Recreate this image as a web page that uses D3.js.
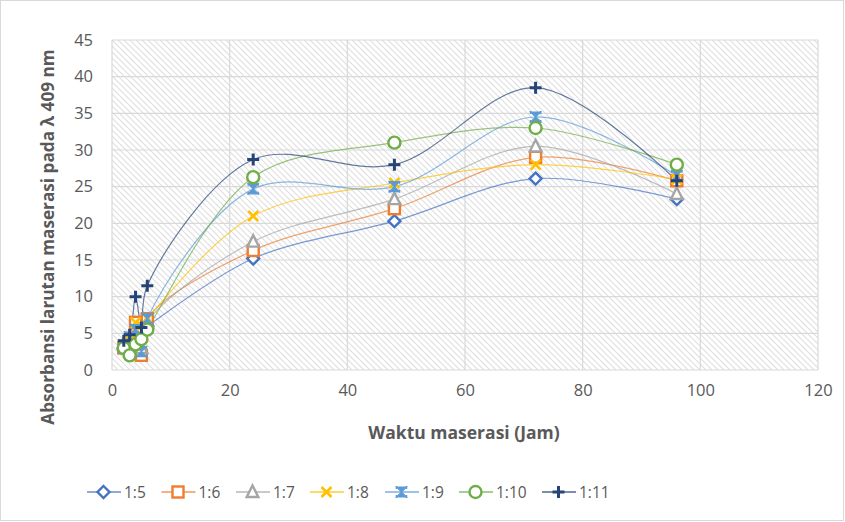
<!DOCTYPE html>
<html><head><meta charset="utf-8">
<script src="https://cdn.jsdelivr.net/npm/d3@7"></script>
<style>body{margin:0;background:#fff}svg{display:block}</style>
</head><body>
<svg id="c" width="845" height="522"></svg>
<script>
const xValues = [2, 3, 4, 5, 6, 24, 48, 72, 96];
const seriesNames = ["1:5", "1:6", "1:7", "1:8", "1:9", "1:10", "1:11"];
const s15  = [3.0, 3.5, 4.5, 5.5, 6.0, 15.2, 20.3, 26.1, 23.3];
const s16  = [3.0, 3.5, 6.5, 2.0, 7.0, 16.3, 22.0, 29.0, 25.8];
const s17  = [3.5, 3.0, 4.0, 3.0, 6.5, 17.5, 23.3, 30.5, 24.0];
const s18  = [3.5, 4.0, 6.5, 6.0, 7.0, 21.0, 25.5, 28.0, 26.0];
const s19  = [3.0, 4.5, 5.5, 2.5, 7.0, 24.7, 25.0, 34.5, 26.5];
const s110 = [3.0, 2.0, 3.5, 4.2, 5.5, 26.3, 31.0, 33.0, 28.0];
const s111 = [4.0, 4.8, 10.0, 5.8, 11.5, 28.7, 28.0, 38.5, 25.8];
const xTicks = [0, 20, 40, 60, 80, 100, 120];
const yTicks = [0, 5, 10, 15, 20, 25, 30, 35, 40, 45];

const allSeries = [s15, s16, s17, s18, s19, s110, s111];
const colors = ["#4472C4", "#ED7D31", "#A5A5A5", "#FFC000", "#5B9BD5", "#70AD47", "#264478"];
const markers = ["diamond", "square", "triangle", "x", "hourglass", "circle", "plus"];

const svg = d3.select("#c");
const font = "'Open Sans', 'DejaVu Sans', sans-serif";
const L = 112, R = 818, T = 40, B = 370;
const x = d3.scaleLinear().domain([0, 120]).range([L, R]);
const y = d3.scaleLinear().domain([0, 45]).range([B, T]);

svg.append("rect").attr("x", 0.5).attr("y", 0.5).attr("width", 843).attr("height", 520)
  .attr("fill", "#fff").attr("stroke", "#d9d9d9");

const defs = svg.append("defs");
const pat = defs.append("pattern").attr("id", "hatch").attr("patternUnits", "userSpaceOnUse")
  .attr("width", 6).attr("height", 6);
pat.append("path").attr("d", "M0,0L6,6M-1,5L1,7M5,-1L7,1")
  .attr("stroke", "#dedede").attr("stroke-width", 1.1);

svg.append("rect").attr("x", L).attr("y", T).attr("width", R - L).attr("height", B - T)
  .attr("fill", "url(#hatch)");

// gridlines
svg.append("g").selectAll("line").data(yTicks).join("line")
  .attr("x1", L).attr("x2", R).attr("y1", d => y(d)).attr("y2", d => y(d))
  .attr("stroke", "#d9d9d9").attr("stroke-width", 1.2);
svg.append("g").selectAll("line").data(xTicks).join("line")
  .attr("y1", T).attr("y2", B).attr("x1", d => x(d)).attr("x2", d => x(d))
  .attr("stroke", "#d9d9d9").attr("stroke-width", 1.2);

// axes (labels only)
const xAxis = svg.append("g").attr("transform", `translate(0,${B})`)
  .call(d3.axisBottom(x).tickValues(xTicks).tickSize(0).tickPadding(14));
const yAxis = svg.append("g").attr("transform", `translate(${L},0)`)
  .call(d3.axisLeft(y).tickValues(yTicks).tickSize(0).tickPadding(19));
[xAxis, yAxis].forEach(a => {
  a.select(".domain").remove();
  a.selectAll("text").attr("fill", "#595959").style("font-family", font).style("font-size", "16.5px");
});

svg.append("text").attr("x", 464).attr("y", 439).attr("text-anchor", "middle")
  .attr("fill", "#595959").style("font-family", font).style("font-size", "17.5px").style("font-weight", "bold")
  .text("Waktu maserasi (Jam)");
svg.append("text").attr("transform", "translate(54,237) rotate(-90)").attr("text-anchor", "middle")
  .attr("fill", "#595959").style("font-family", font).style("font-size", "17.2px").style("font-weight", "bold")
  .text("Absorbansi larutan maserasi pada λ 409 nm");

function drawMarker(g, type, color, cx, cy) {
  const m = g.append("g").attr("transform", `translate(${cx},${cy})`);
  const sw = 2.4;
  if (type === "diamond") m.append("path").attr("d", "M0,-6L6,0L0,6L-6,0Z").attr("fill", "#fff").attr("stroke", color).attr("stroke-width", sw);
  if (type === "square") m.append("rect").attr("x", -5.5).attr("y", -5.5).attr("width", 11).attr("height", 11).attr("fill", "#fff").attr("stroke", color).attr("stroke-width", sw);
  if (type === "triangle") m.append("path").attr("d", "M0,-6.5L5.8,5L-5.8,5Z").attr("fill", "#fff").attr("stroke", color).attr("stroke-width", sw);
  if (type === "x") m.append("path").attr("d", "M-5,-5L5,5M-5,5L5,-5").attr("stroke", color).attr("stroke-width", 2.6);
  if (type === "hourglass") {
    m.append("path").attr("d", "M-5,-5L5,-5L0,0Z M-5,5L5,5L0,0Z").attr("fill", color).attr("stroke", color).attr("stroke-width", 1.2);
    m.append("path").attr("d", "M-5,-6L-5,-3M5,-6L5,-3M-5,6L-5,3M5,6L5,3").attr("stroke", color).attr("stroke-width", 1.5);
  }
  if (type === "circle") m.append("circle").attr("r", 6).attr("fill", "#fff").attr("stroke", color).attr("stroke-width", sw);
  if (type === "plus") m.append("path").attr("d", "M-6,0L6,0M0,-6L0,6").attr("stroke", color).attr("stroke-width", 3);
}

const line = d3.line().x(d => x(d[0])).y(d => y(d[1])).curve(d3.curveCatmullRom.alpha(0.5));
const linesG = svg.append("g");
const marksG = svg.append("g");
allSeries.forEach((vals, i) => {
  const pts = xValues.map((xv, j) => [xv, vals[j]]);
  linesG.append("path").datum(pts).attr("d", line).attr("fill", "none")
    .attr("stroke", colors[i]).attr("stroke-width", 1.2).attr("stroke-opacity", 0.7);
  pts.forEach(p => drawMarker(marksG, markers[i], colors[i], x(p[0]), y(p[1])));
});

// legend
const legX = [87, 161.5, 236, 310, 385, 459, 542];
const legY = 492;
seriesNames.forEach((n, i) => {
  const g = svg.append("g");
  g.append("line").attr("x1", legX[i]).attr("x2", legX[i] + 34).attr("y1", legY).attr("y2", legY)
    .attr("stroke", colors[i]).attr("stroke-width", 1.3).attr("stroke-opacity", 0.8);
  drawMarker(g, markers[i], colors[i], legX[i] + 16.5, legY);
  g.append("text").attr("x", legX[i] + 37).attr("y", legY + 6)
    .attr("fill", "#595959").style("font-family", font).style("font-size", "15.5px").text(n);
});
</script>
</body></html>
